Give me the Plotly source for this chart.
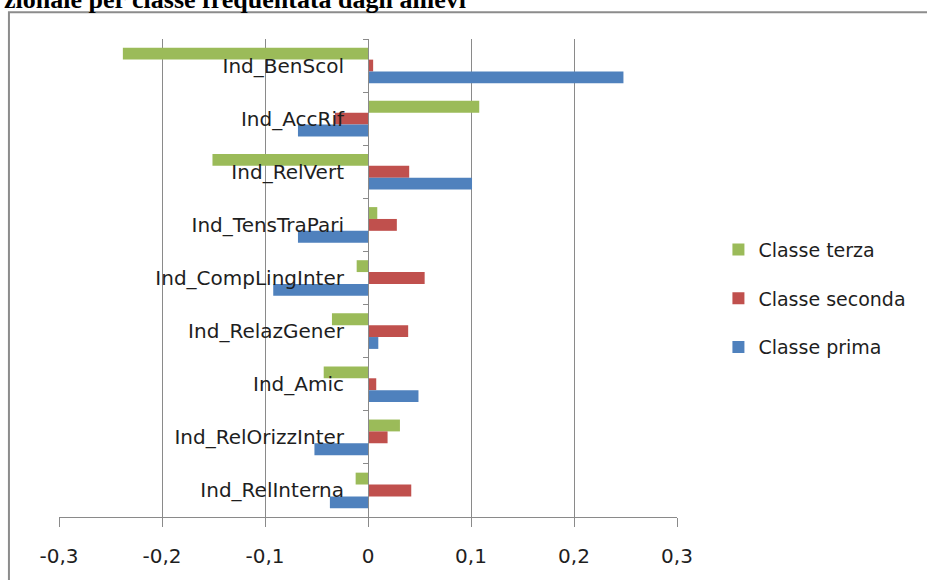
import plotly.graph_objects as go

# Categories listed top to bottom as they appear in the chart
categories = [
    "Ind_BenScol",
    "Ind_AccRif",
    "Ind_RelVert",
    "Ind_TensTraPari",
    "Ind_CompLingInter",
    "Ind_RelazGener",
    "Ind_Amic",
    "Ind_RelOrizzInter",
    "Ind_RelInterna",
]

# Values, one list per class
classe_terza = [-0.238, 0.108, -0.151, 0.009, -0.011, -0.035, -0.043, 0.031, -0.012]
classe_seconda = [0.005, -0.032, 0.040, 0.028, 0.055, 0.039, 0.008, 0.019, 0.042]
classe_prima = [0.248, -0.068, 0.101, -0.068, -0.092, 0.010, 0.049, -0.052, -0.037]

# Tick labels with the Italian decimal comma
x_tickvals = [-0.3, -0.2, -0.1, 0, 0.1, 0.2, 0.3]
x_ticktext = ["-0,3", "-0,2", "-0,1", "0", "0,1", "0,2", "0,3"]

heading = "zionale per classe frequentata dagli allievi"

COLORS = {
    "Classe terza": "#9BBB59",
    "Classe seconda": "#C0504D",
    "Classe prima": "#4F81BD",
}
GRID = "#8a8a8a"
FONT = "DejaVu Sans"
TEXT = "#1e1e1e"


def build_figure() -> go.Figure:
    """
    Builds the grouped horizontal bar chart of the indices per class.
    """
    fig = go.Figure()

    series = [
        ("Classe terza", classe_terza),
        ("Classe seconda", classe_seconda),
        ("Classe prima", classe_prima),
    ]
    for name, values in series:
        fig.add_trace(
            go.Bar(
                x=values,
                y=categories,
                name=name,
                orientation="h",
                legendgroup=name,  # one group per trace so tracegroupgap spaces items
                marker=dict(color=COLORS[name], line=dict(width=0)),
            )
        )

    fig.update_layout(
        width=927,
        height=580,
        barmode="group",
        bargap=0.33,
        bargroupgap=0,
        separators=",.",
        paper_bgcolor="white",
        plot_bgcolor="white",
        margin=dict(l=59, r=250, t=39, b=59),
        font=dict(family=FONT, size=20, color=TEXT),
        legend=dict(
            # container coordinates so the legend does not push the margins
            xref="container",
            yref="container",
            x=0.775,
            y=0.485,
            xanchor="left",
            yanchor="middle",
            traceorder="grouped",
            tracegroupgap=21,
            font=dict(size=19, color=TEXT),
            bgcolor="rgba(0,0,0,0)",
        ),
    )

    # Value axis with vertical gridlines
    fig.update_xaxes(
        range=[-0.3, 0.3],
        tickvals=x_tickvals,
        ticktext=x_ticktext,
        showgrid=True,
        gridcolor=GRID,
        gridwidth=1,
        zeroline=False,
        showline=True,
        linecolor=GRID,
        linewidth=1,
        ticks="outside",
        ticklen=9,
        tickcolor=GRID,
        ticklabelstandoff=12,
        tickfont=dict(size=20, color=TEXT),
    )

    # Category axis sits on the zero line, labels to its left
    fig.update_yaxes(
        type="category",
        autorange="reversed",
        anchor="free",
        position=0.5,
        showgrid=False,
        showline=True,
        linecolor=GRID,
        linewidth=1,
        ticks="outside",
        tickson="boundaries",
        ticklen=5,
        tickcolor=GRID,
        ticklabelstandoff=20,
        tickfont=dict(size=20, color=TEXT),
        layer="above traces",
    )

    # Outer frame of the embedded chart, cut off by the page on the right/bottom
    fig.add_shape(
        type="rect",
        xref="paper",
        yref="paper",
        x0=-0.081,
        x1=1.6,
        y0=-0.3,
        y1=1.056,
        line=dict(color="#8c8c8c", width=2),
        fillcolor="rgba(0,0,0,0)",
        layer="below",
    )

    # Document heading, partially cut off at the top of the page
    fig.add_annotation(
        text=f"<b>{heading}</b>",
        xref="paper",
        yref="paper",
        x=-0.092,
        y=1.083,
        xanchor="left",
        yanchor="middle",
        showarrow=False,
        font=dict(family="Liberation Serif", size=26, color="#000000"),
    )

    return fig


fig = build_figure()
# drop the default page margin so the figure sits at the window's corner
fig.write_html(
    "out.html",
    config={"displayModeBar": False},
    post_script="document.body.style.margin='0';",
)
